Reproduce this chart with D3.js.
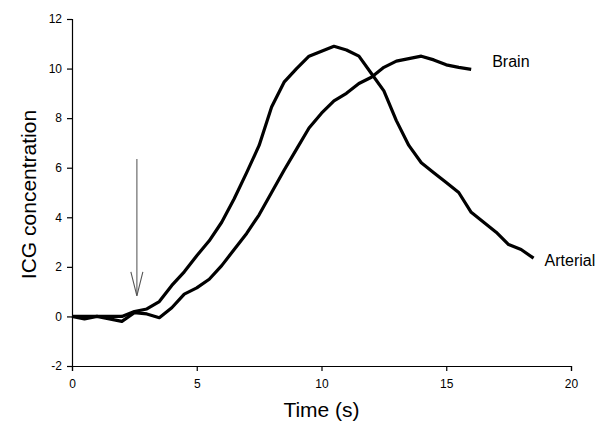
<!DOCTYPE html>
<html lang="en">
<head>
<meta charset="utf-8">
<title>ICG concentration vs time</title>
<style>
  body { margin: 0; background: #fff; }
  svg text { font-family: Arial, "Liberation Sans", sans-serif; fill: #000; }
</style>
</head>
<body>
<script src="https://cdn.jsdelivr.net/npm/d3@7"></script>
<script>
// data (time in s, ICG concentration)
var brainTime = [0, 0.5, 1, 1.5, 2, 2.5, 3, 3.5, 4, 4.5, 5, 5.5, 6, 6.5, 7, 7.5, 8, 8.5,
  9, 9.5, 10, 10.5, 11, 11.5, 12, 12.5, 13, 13.5, 14, 14.5, 15, 15.5, 16];
var brainValues = [0, -0.1, 0, -0.1, -0.2, 0.15, 0.1, -0.05, 0.35, 0.9, 1.15, 1.5, 2.05, 2.7, 3.35, 4.1, 5.0, 5.9,
  6.75, 7.6, 8.2, 8.7, 9.0, 9.4, 9.65, 10.05, 10.3, 10.4, 10.5, 10.35, 10.15, 10.05, 9.97];

var arterialTime = [0, 0.5, 1, 1.5, 2, 2.5, 3, 3.5, 4, 4.5, 5, 5.5, 6, 6.5, 7, 7.5, 8, 8.5,
  9, 9.5, 10, 10.5, 11, 11.5, 12, 12.5, 13, 13.5, 14, 14.5, 15, 15.5, 16, 16.5, 17, 17.5, 18, 18.5];
var arterialValues = [0, 0, 0, 0, 0, 0.2, 0.3, 0.6, 1.25, 1.8, 2.45, 3.05, 3.8, 4.75, 5.8, 6.9, 8.45, 9.45,
  10.0, 10.5, 10.7, 10.9, 10.75, 10.5, 9.8, 9.1, 7.9, 6.9, 6.2, 5.8, 5.4, 5.0, 4.2, 3.8, 3.4, 2.9, 2.7, 2.35];

var xTicks = [0, 5, 10, 15, 20];
var yTicks = [-2, 0, 2, 4, 6, 8, 10, 12];

// injection arrow: time, top value, tip value
var arrowTime = 2.6;
var arrowTop = 6.35;
var arrowTip = 0.83;

var w = 616;
var h = 429;
var margin = {top: 19, right: 45, bottom: 63, left: 72};

var x = d3.scaleLinear().domain([0, 20]).range([margin.left, w - margin.right]);
var y = d3.scaleLinear().domain([-2, 12]).range([h - margin.bottom, margin.top]);

var svg = d3.select("body").append("svg").attr("width", w).attr("height", h);

// plain hyphen for negatives, like the original
var fmt = function(d) { return String(d); };

// axes
var xAxis = svg.append("g")
  .attr("transform", `translate(0,${y(-2)})`)
  .call(d3.axisBottom(x).tickValues(xTicks).tickFormat(fmt).tickSize(5).tickPadding(8));
var yAxis = svg.append("g")
  .attr("transform", `translate(${x(0)},0)`)
  .call(d3.axisLeft(y).tickValues(yTicks).tickFormat(fmt).tickSize(5).tickPadding(5));

[xAxis, yAxis].forEach(function(a) {
  a.select(".domain").attr("stroke", "#000").attr("stroke-width", 1.2);
  a.selectAll(".tick line").attr("stroke", "#000").attr("stroke-width", 1.2);
  a.selectAll(".tick text").attr("font-size", 12).attr("font-family", "Arial, 'Liberation Sans', sans-serif");
});

// lines
var line = d3.line()
  .x(function(d) { return x(d[0]); })
  .y(function(d) { return y(d[1]); });

var brain = brainTime.map(function(t, i) { return [t, brainValues[i]]; });
var arterial = arterialTime.map(function(t, i) { return [t, arterialValues[i]]; });

svg.append("path").datum(brain)
  .attr("d", line).attr("fill", "none").attr("stroke", "#000")
  .attr("stroke-width", 3.2).attr("stroke-linejoin", "round");
svg.append("path").datum(arterial)
  .attr("d", line).attr("fill", "none").attr("stroke", "#000")
  .attr("stroke-width", 3.2).attr("stroke-linejoin", "round");

// arrow
var ax = x(arrowTime);
svg.append("line")
  .attr("x1", ax).attr("x2", ax)
  .attr("y1", y(arrowTop)).attr("y2", y(arrowTip))
  .attr("stroke", "#777").attr("stroke-width", 1.3);
svg.append("path")
  .attr("d", `M${ax - 6},${y(arrowTip) - 24} L${ax},${y(arrowTip)} L${ax + 6},${y(arrowTip) - 24}`)
  .attr("fill", "none").attr("stroke", "#555").attr("stroke-width", 1.1);

// series labels
svg.append("text").text("Brain")
  .attr("x", x(16) + 21).attr("y", y(brainValues[brainValues.length - 1]) - 2)
  .attr("font-size", 16);
svg.append("text").text("Arterial")
  .attr("x", x(18.5) + 11).attr("y", y(arterialValues[arterialValues.length - 1]) + 8)
  .attr("font-size", 16);

// axis titles
svg.append("text").text("Time (s)")
  .attr("x", (x(0) + x(20)) / 2).attr("y", 417)
  .attr("text-anchor", "middle").attr("font-size", 21);
svg.append("text").text("ICG concentration")
  .attr("text-anchor", "middle").attr("font-size", 21)
  .attr("transform", `translate(36,${(y(-2) + y(12)) / 2 + 2}) rotate(-90)`);
</script>
</body>
</html>
